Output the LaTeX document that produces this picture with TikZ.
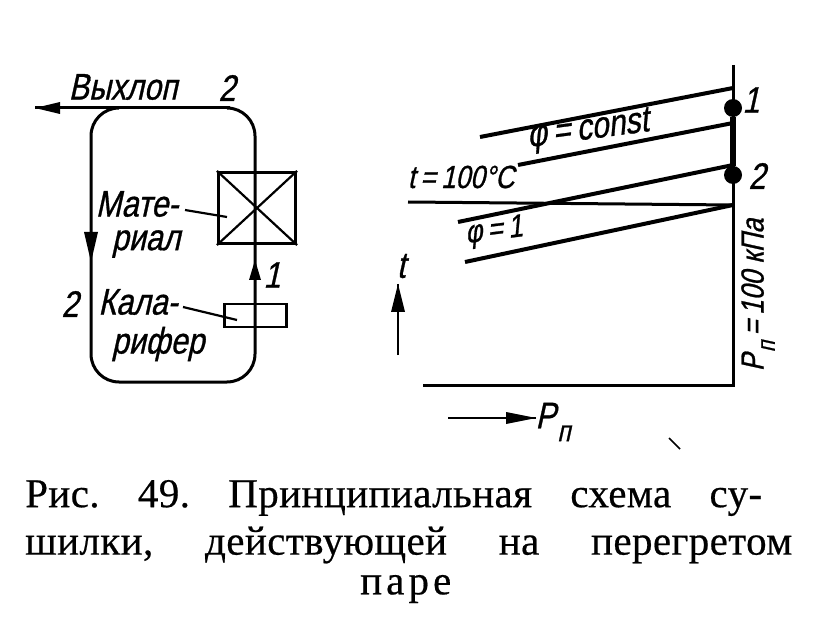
\documentclass[tikz,border=0pt]{standalone}
\usepackage{fontspec}
\setmainfont[LetterSpace=1,FakeBold=0.5]{Liberation Serif}
\newfontfamily\hand[FakeSlant=0.22,FakeStretch=0.82,FakeBold=0.8]{Liberation Sans}
\tikzset{
 x=1pt,y=-1pt,
 heavy/.style={draw=black,line width=4pt},
 med/.style={draw=black,line width=3pt},
 thin line/.style={draw=black,line width=2.2pt},
 lab/.style={inner sep=0pt,font=\hand\fontsize{37}{37}\selectfont,text=black},
 mid lab/.style={inner sep=0pt,font=\hand\fontsize{32}{32}\selectfont,text=black},
 captext/.style={inner sep=0pt,anchor=west,font=\fontsize{41}{41}\selectfont,text=black},
 dot/.style={circle,fill=black,minimum size=18pt,inner sep=0pt},
}
\newcommand{\Pp}{P\kern1.5pt\raisebox{-0.35em}{\scalebox{0.8}{п}}}
\begin{document}
\begin{tikzpicture}
\useasboundingbox (0,0) rectangle (838,620);
% left loop
\coordinate (exhaust) at (35,108);
\coordinate (topleft) at (116,108);
\coordinate (topright) at (255,108);
\coordinate (botright) at (255,382);
\coordinate (botleft) at (91,382);
\coordinate (lefttop) at (91,108);
\node[draw=black,line width=3.2pt,minimum width=77pt,minimum height=71pt,inner sep=0pt] (mat) at (257,208) {};
\node[draw=black,line width=2.6pt,minimum width=62pt,minimum height=23pt,inner sep=0pt] (heater) at (255.5,315.5) {};
\draw[med] (topright) ++(-25,0) -- (exhaust);
\fill (exhaust) -- (60,102) -- (60,114) -- cycle;
\draw[med,rounded corners=28pt] (topleft) -- (lefttop) -- (botleft) -- (botright) -- (topright) -- (230,108);
\draw[thin line] (mat.north west) -- (mat.south east);
\draw[thin line] (mat.north east) -- (mat.south west);
\fill (91,262) -- (84,232) -- (98,232) -- cycle;
\fill (255,260) -- (249,280) -- (261,280) -- cycle;
\coordinate (matlead) at (185,210);
\coordinate (heatlead) at (183,307);
\draw[thin line] (matlead) -- (227,217);
\draw[thin line] (heatlead) -- (237,320);
\node[lab] (vyh) at (123,87) {Выхлоп};
\node[lab] (n2a) at (227,88) {2};
\node[lab] (n1a) at (272,275) {1};
\node[lab] (n2b) at (70,304) {2};
\node[lab] (mate) at (137,204) {Мате-};
\node[lab] (rial) at (146,244) {риал};
\node[lab] (kalo) at (138,302) {Кала-};
\node[lab] (rifer) at (158,344) {рифер};
% right chart
\coordinate (axtop) at (733,65);
\coordinate (axbot) at (733,385);
\coordinate (baseleft) at (423,385);
\coordinate (p1) at (733,88);
\coordinate (p2) at (733,123);
\coordinate (p3) at (733,165);
\coordinate (p4) at (733,205);
\coordinate (l1) at (480,137);
\coordinate (l2) at (518,165);
\coordinate (l3) at (458,222);
\coordinate (l4) at (465,262);
\coordinate (l5) at (408,202);
\draw[med] (axtop) -- (axbot) -- (baseleft);
\node[dot] (d1) at (733,108) {};
\node[dot] (d2) at (733,175) {};
\draw[line width=6pt] (d1) -- (d2);
\draw[heavy] (l1) -- (p1);
\draw[heavy] (l2) -- (p2);
\draw[heavy] (l3) -- (p3);
\draw[heavy] (l4) -- (p4);
\draw[med] (l5) -- (p4);
\coordinate (tfrom) at (398,355);
\coordinate (tto) at (398,284);
\draw[thin line] (tfrom) -- (tto);
\fill (tto) -- (391,312) -- (405,312) -- cycle;
\coordinate (pfrom) at (448,418);
\coordinate (pto) at (536,418);
\draw[thin line] (pfrom) -- (pto);
\fill (pto) -- (506,412) -- (506,424) -- cycle;
\coordinate (sp1) at (669,438);
\coordinate (sp2) at (680,449);
\draw[line width=1.6pt] (sp1) -- (sp2);
\node[lab] (n1c) at (751,100) {1};
\node[lab] (n2c) at (757,176) {2};
\node[lab,rotate=7.5] (phic) at (588,131) {φ\,=\,const};
\node[mid lab,rotate=7] (phi1) at (494,232) {φ\,=\,1};
\node[mid lab] (t100) at (461,177) {t\,=\,100°C};
\node[lab] (tl) at (401,266) {t};
\node[lab] (pn) at (553,422) {\Pp};
\node[mid lab,rotate=90] (pk) at (758,295) {\Pp\,=\,100 кПа};
% caption
\node[captext] (c1) at (25,498) {\hbox to 737pt{Рис.\hfill 49.\hfill Принципиальная\hfill схема\hfill су-}};
\node[captext] (c2) at (25,545) {\hbox to 767pt{шилки,\hfill действующей\hfill на\hfill перегретом}};
\node[captext] (c3) at (360,589) {\addfontfeature{LetterSpace=10}паре};
\end{tikzpicture}
\end{document}
